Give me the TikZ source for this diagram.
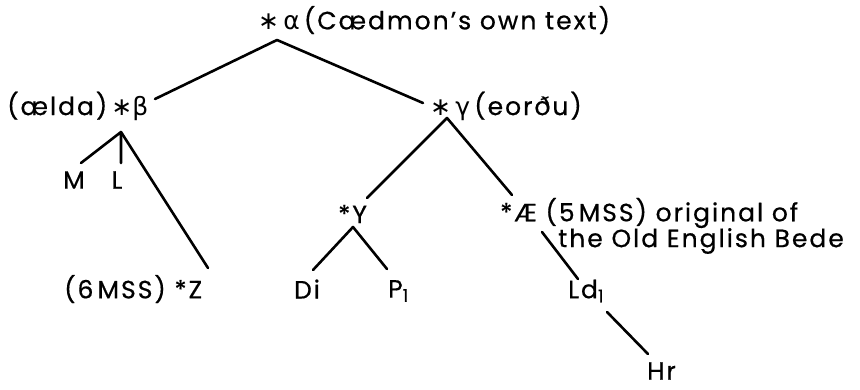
\documentclass[tikz,border=0pt]{standalone}
\usepackage{fontspec}
\setmainfont{Poppins}[LetterSpace=8, FakeBold=0.6]
\newfontfamily\grk{DejaVu Sans}
\usetikzlibrary{positioning}
\begin{document}
\begin{tikzpicture}[x=1pt, y=-1pt,
  font=\fontsize{25}{29}\selectfont,
  ms/.style={inner sep=0pt, anchor=west},
  sig/.style={inner sep=0pt},
  branch/.style={line width=2.6pt, line cap=round, line join=round}]
\useasboundingbox (0,0) rectangle (860,390);

% ---- witnesses and hyparchetypes ----
\node[ms] (alpha) at (258,20) {{\grk∗\,α}\,(Cædmon’s own text)};
\node[ms] (beta) at (7,106) {(ælda)\,{\grk∗β}};
\node[ms] (gamma) at (430,106) {{\grk∗\,γ}\,(eorðu)};
\node[sig] (M) at (74,180) {M};
\node[sig] (L) at (117,180) {L};
\node[ms] (Y) at (338,214) {*Y};
\node[ms] (AE) at (500,213) {*Æ (5\,MSS) original of};
\node[ms] (bede) at (558,241) {the Old English Bede};
\node[ms] (Z) at (64,289) {(6\,MSS) *Z};
\node[sig] (Di) at (307,289) {Di};
\node[ms] (P) at (388,291) {P\textsubscript{1}};
\node[ms] (Ld) at (568,291) {Ld\textsubscript{1}};
\node[ms] (Hr) at (647,371) {Hr};

% ---- junctions and line ends ----
\coordinate (aTop) at (277,40);
\coordinate (bTop) at (121,132);
\coordinate (gTop) at (447,118);
\coordinate (yTop) at (353,227);
\coordinate (betaIn) at (155,99);
\coordinate (gammaIn) at (423,103);
\coordinate (MIn) at (81,163);
\coordinate (LIn) at (121,163);
\coordinate (ZIn) at (208,268);
\coordinate (YIn) at (367,198);
\coordinate (AEIn) at (512,195);
\coordinate (AEOut) at (542,232);
\coordinate (DiIn) at (313,270);
\coordinate (PIn) at (387,269);
\coordinate (LdIn) at (578,279);
\coordinate (LdOut) at (607,312);
\coordinate (HrIn) at (648,354);

% ---- stemma lines ----
\draw[branch] (betaIn) -- (aTop) -- (gammaIn);
\draw[branch] (MIn) -- (bTop) -- (LIn);
\draw[branch] (bTop) -- (ZIn);
\draw[branch] (YIn) -- (gTop) -- (AEIn);
\draw[branch] (DiIn) -- (yTop) -- (PIn);
\draw[branch] (AEOut) -- (LdIn);
\draw[branch] (LdOut) -- (HrIn);
\end{tikzpicture}
\end{document}
